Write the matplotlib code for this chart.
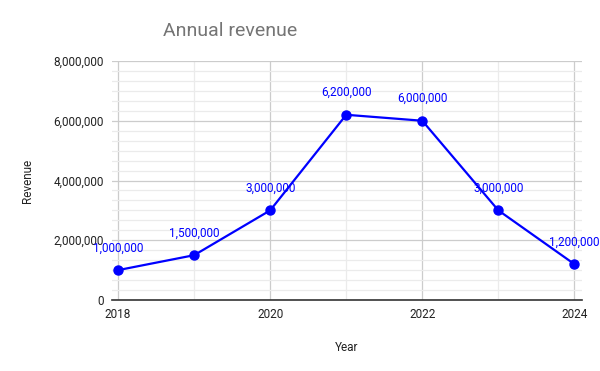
import matplotlib
matplotlib.use('Agg')
import matplotlib.pyplot as plt
from matplotlib.ticker import MultipleLocator, FuncFormatter

years = [2018, 2019, 2020, 2021, 2022, 2023, 2024]
revenue = [1000000, 1500000, 3000000, 6200000, 6000000, 3000000, 1200000]
x_ticks = [2018, 2020, 2022, 2024]
y_ticks = [0, 2000000, 4000000, 6000000, 8000000]

plt.rcParams['font.family'] = ['Roboto', 'DejaVu Sans']

fig = plt.figure(figsize=(6, 3.71), dpi=100)
ax = fig.add_axes([112 / 600, 1 - 300 / 371, 470 / 600, 239 / 371])

ax.plot(years, revenue, color='#0000ff', lw=1.6, marker='o', ms=6.5, zorder=3, clip_on=False)
for x, y in zip(years, revenue):
    ax.annotate(f'{y:,}', (x, y), xytext=(0, 16), textcoords='offset points',
                ha='center', va='center', color='#0000ff', fontsize=8.5, zorder=4)

ax.set_xlim(2017.92, 2024.1)
ax.set_ylim(0, 8000000)
ax.set_xticks(x_ticks)
ax.set_yticks(y_ticks)
ax.xaxis.set_minor_locator(MultipleLocator(1))
ax.yaxis.set_minor_locator(MultipleLocator(2000000 / 6))
ax.yaxis.set_major_formatter(FuncFormatter(lambda v, p: f'{int(v):,}'))

ax.grid(which='major', color='#cccccc', lw=0.9)
ax.grid(which='minor', color='#ebebeb', lw=0.9)
ax.set_axisbelow(True)
for s in ['top', 'right', 'left']:
    ax.spines[s].set_visible(False)
ax.spines['bottom'].set_color('#333333')
ax.spines['bottom'].set_linewidth(1.2)
ax.tick_params(which='both', length=0, labelsize=8.5, labelcolor='#222222')
ax.tick_params(axis='x', pad=6)
ax.tick_params(axis='y', pad=6)

ax.set_xlabel('Year', fontsize=8.5, color='#222222', labelpad=14)
ax.set_ylabel('Revenue', fontsize=8.5, color='#222222', labelpad=14)
fig.text(163 / 600, 1 - 31 / 371, 'Annual revenue', fontsize=14, color='#757575',
         ha='left', va='center')

plt.savefig('out.png', dpi=100, facecolor='white')
plt.close()
